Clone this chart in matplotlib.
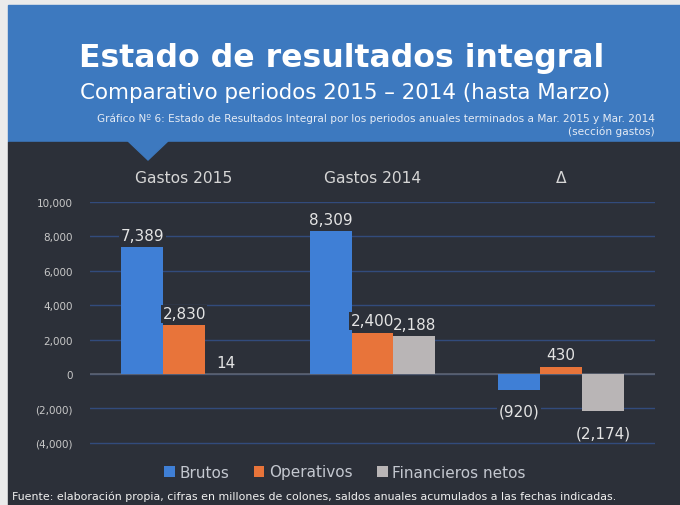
import matplotlib
matplotlib.use("Agg")
import matplotlib.pyplot as plt
import numpy as np
from matplotlib.patches import Rectangle, Polygon

groups = ["Gastos 2015", "Gastos 2014", "\u0394"]
series = ["Brutos", "Operativos", "Financieros netos"]
brutos = [7389, 8309, -920]
operativos = [2830, 2400, 430]
financieros = [14, 2188, -2174]
yticks = [-4000, -2000, 0, 2000, 4000, 6000, 8000, 10000]

colors = ["#3f7fd6", "#e8743a", "#b9b5b6"]
bg_dark = "#2c3039"
bg_head = "#3d79bf"
W, H = 680, 506


def fmt(v):
    s = f"{abs(v):,.0f}"
    return f"({s})" if v < 0 else s


def px(x, y):
    return (x / W, 1 - y / H)


fig = plt.figure(figsize=(6.8, 5.06), dpi=100, facecolor="#ebebeb")

# panels
x0, y0 = px(8, 143)
fig.patches.append(Rectangle(px(8, 143), 1 - x0, 1 - 6 / H - y0,
                             transform=fig.transFigure, color=bg_head, zorder=0))
fig.patches.append(Rectangle((x0, 0), 1 - x0, y0,
                             transform=fig.transFigure, color=bg_dark, zorder=0))
fig.patches.append(Polygon([px(128, 142), px(168, 142), px(148, 161)], closed=True,
                           transform=fig.transFigure, color=bg_head, zorder=1))

# header texts
fig.text(342 / W, 1 - 59 / H, "Estado de resultados integral", ha="center", va="center",
         color="white", fontsize=22.7, fontweight="bold")
fig.text(345 / W, 1 - 93 / H, "Comparativo periodos 2015 \u2013 2014 (hasta Marzo)",
         ha="center", va="center", color="white", fontsize=15.4)
fig.text(655 / W, 1 - 119 / H,
         "Gráfico Nº 6: Estado de Resultados Integral por los periodos anuales terminados a Mar. 2015 y Mar. 2014",
         ha="right", va="center", color="#e6ecf5", fontsize=7.6)
fig.text(655 / W, 1 - 132 / H, "(sección gastos)", ha="right", va="center",
         color="#e6ecf5", fontsize=7.6)

# chart
ax = fig.add_axes([90 / W, 1 - 454 / H, 565 / W, 251 / H])
ax.set_zorder(5)
ax.set_facecolor("none")
x = np.arange(len(groups))
w = 0.223
for i, (vals, c) in enumerate(zip([brutos, operativos, financieros], colors)):
    bars = ax.bar(x + (i - 1) * w, vals, w, color=c, label=series[i], zorder=3)
    for b, v in zip(bars, vals):
        off = 3 if v >= 0 else -10
        box = dict(boxstyle="square,pad=0.1", fc=bg_dark, ec="none") if i < 2 else None
        ax.annotate(fmt(v), (b.get_x() + b.get_width() / 2, v), xytext=(0, off),
                    textcoords="offset points", ha="center",
                    va="bottom" if v >= 0 else "top", color="#e4e4e4", fontsize=11,
                    zorder=4 + i, bbox=box)

ax.set_xlim(-0.5, 2.5)
ax.set_ylim(-4600, 10000)
ax.set_yticks(yticks)
ax.set_yticklabels([fmt(t) for t in yticks])
ax.tick_params(axis="y", length=0, pad=12.5, labelsize=7.5, labelcolor="#c8c8c8")
ax.grid(axis="y", color="#324b7c", linewidth=1, zorder=0)
ax.axhline(0, color="#5d6270", linewidth=1.2, zorder=2)
ax.set_xticks(x)
ax.set_xticklabels(groups)
ax.xaxis.set_ticks_position("top")
ax.tick_params(axis="x", length=0, pad=12, labelsize=11.2, labelcolor="#d6d6d6")
for s in ax.spines.values():
    s.set_visible(False)

leg = fig.legend(loc="center", bbox_to_anchor=(345 / W, 1 - 473 / H), ncol=3,
                 frameon=False, fontsize=11, handlelength=0.7, handleheight=0.7,
                 handletextpad=0.3, columnspacing=1.6, labelcolor="#c4c8d0")
leg.set_zorder(6)

fig.text(12 / W, 1 - 497 / H,
         "Fuente: elaboración propia, cifras en millones de colones, saldos anuales acumulados a las fechas indicadas.",
         ha="left", va="center", color="#f0f0f0", fontsize=7.9)

fig.savefig("out.png", dpi=100, facecolor=fig.get_facecolor())
